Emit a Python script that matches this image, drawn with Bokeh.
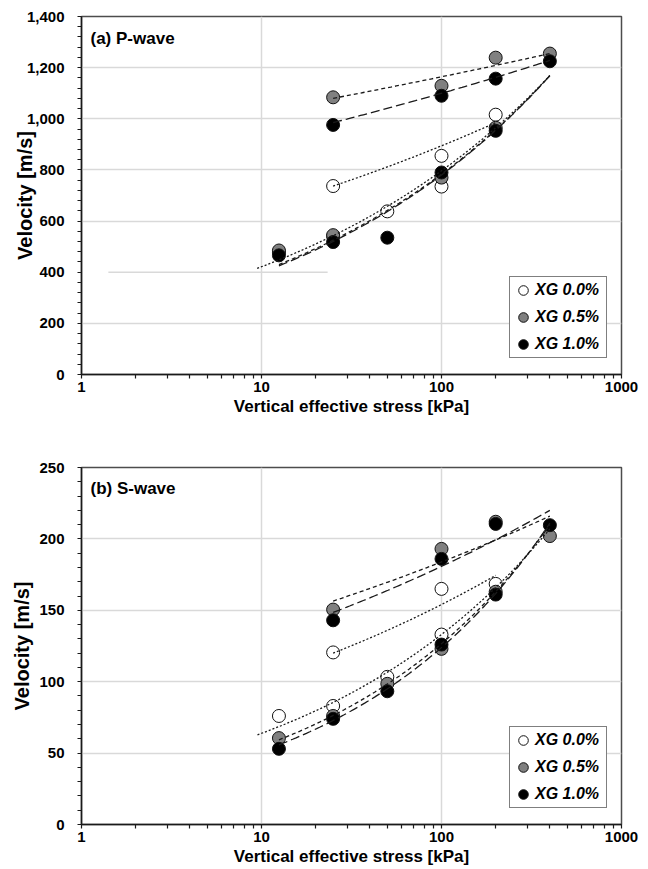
import numpy as np
from bokeh.plotting import figure
from bokeh.layouts import column
from bokeh.models import (FixedTicker, NumeralTickFormatter, Legend, LegendItem,
                          Label, Range1d)
from bokeh.embed import file_html
from bokeh.resources import INLINE

# ---------------- data ----------------
series_names = ["XG 0.0%", "XG 0.5%", "XG 1.0%"]
series_fill = ["white", "#808080", "black"]

# P-wave measured points (stress kPa, velocity m/s)
p_x_xg00 = [12.5, 25, 25, 50, 100, 100, 200]
p_y_xg00 = [478, 737, 540, 638, 855, 735, 1016]
p_x_xg05 = [12.5, 25, 25, 100, 100, 200, 200, 400]
p_y_xg05 = [485, 1084, 545, 1129, 770, 1239, 965, 1255]
p_x_xg10 = [12.5, 25, 25, 50, 100, 100, 200, 200, 400]
p_y_xg10 = [466, 976, 518, 535, 1090, 790, 1157, 953, 1225]

# S-wave measured points
s_x_xg00 = [12.5, 25, 25, 50, 100, 100, 200]
s_y_xg00 = [76, 120.5, 83, 103.4, 165, 133, 168.5]
s_x_xg05 = [12.5, 25, 25, 50, 100, 100, 200, 200, 400]
s_y_xg05 = [60.5, 150.5, 76, 98.5, 193, 123, 212, 163, 202]
s_x_xg10 = [12.5, 25, 25, 50, 100, 100, 200, 200, 400]
s_y_xg10 = [53, 143, 74, 93.3, 186, 126, 210.5, 161, 209.6]

# power-law trend lines: (series index, stress start, stress end, V start, V end)
p_fits = [
    (0, 25, 200, 737, 985),
    (1, 25, 400, 1080, 1255),
    (2, 25, 400, 985, 1228),
    (0, 9.46, 400, 415, 1169),
    (1, 12.5, 400, 430, 1169),
    (2, 12.5, 400, 425, 1169),
]
s_fits = [
    (0, 25, 200, 120, 174.5),
    (1, 25, 400, 156.5, 216),
    (2, 25, 400, 148.5, 220),
    (0, 9.5, 400, 62.8, 207),
    (1, 12.5, 400, 59.3, 210),
    (2, 12.5, 400, 55.8, 211),
]
fit_dash = ["2 2", "4 3", "9 4"]

x_major = [1, 10, 100, 1000]
x_minor = [m * d for d in (1, 10, 100) for m in range(2, 10)]
p_y_ticks = list(range(0, 1401, 200))
s_y_ticks = list(range(0, 251, 50))
p_grid_gap = [400]          # this P gridline is only drawn partly
p_grid_part = [1.41, 23.3]  # stress span of that partial gridline

FONT = "Liberation Sans"
GRID = "#d9d9d9"


def make_panel(title, xs_list, ys_list, fits, y_ticks, y_minor_step, y_max,
               height, b_top, b_bottom, title_y, ylab_standoff, grid_skip=()):
    p = figure(width=648, height=height, x_axis_type="log",
               x_range=Range1d(1, 1000), y_range=Range1d(0, y_max),
               output_backend="svg", toolbar_location=None,
               min_border_left=81, min_border_right=27,
               min_border_top=b_top, min_border_bottom=b_bottom)
    p.outline_line_color = "#4d4d4d"
    p.outline_line_width = 1.5
    p.background_fill_color = "white"
    p.border_fill_color = "white"

    # axes
    p.xaxis.ticker = FixedTicker(ticks=x_major, minor_ticks=x_minor)
    p.xaxis.major_label_overrides = {v: str(v) for v in x_major}
    minor_y = [v for v in np.arange(0, y_max + 0.001, y_minor_step).tolist()
               if v not in y_ticks]
    p.yaxis.ticker = FixedTicker(ticks=y_ticks, minor_ticks=minor_y)
    p.yaxis.formatter = NumeralTickFormatter(format="0,0")
    for ax in (p.xaxis, p.yaxis):
        ax.axis_line_color = "#1a1a1a"
        ax.axis_line_width = 1.5
        ax.major_tick_line_color = "#1a1a1a"
        ax.minor_tick_line_color = "#1a1a1a"
        ax.major_tick_line_width = 1.2
        ax.minor_tick_line_width = 1.2
        ax.major_tick_out = 4
        ax.major_tick_in = 0
        ax.minor_tick_out = 4
        ax.minor_tick_in = 0
        ax.major_label_text_font = FONT
        ax.major_label_text_font_style = "bold"
        ax.major_label_text_font_size = "15px"
        ax.major_label_text_color = "black"
        ax.axis_label_text_font = FONT
        ax.axis_label_text_font_style = "bold"
        ax.axis_label_text_color = "black"
    p.xaxis.axis_label = "Vertical effective stress [kPa]"
    p.xaxis.axis_label_text_font_size = "17px"
    p.xaxis.major_label_standoff = 3
    p.xaxis.axis_label_standoff = 2
    p.yaxis.axis_label = "Velocity [m/s]"
    p.yaxis.axis_label_text_font_size = "20px"
    p.yaxis.major_label_standoff = 13
    p.yaxis.axis_label_standoff = ylab_standoff

    # grid
    p.xgrid.ticker = FixedTicker(ticks=[10, 100])
    p.ygrid.ticker = FixedTicker(ticks=[t for t in y_ticks if t not in grid_skip])
    for g in (p.xgrid, p.ygrid):
        g.grid_line_color = GRID
        g.grid_line_width = 1.5

    # markers
    renderers = []
    for xs, ys, fill in zip(xs_list, ys_list, series_fill):
        r = p.scatter(xs, ys, size=13, fill_color=fill, line_color="#111111",
                      line_width=1)
        renderers.append(r)

    # trend lines
    for idx, x0, x1, v0, v1 in fits:
        b = np.log(v1 / v0) / np.log(x1 / x0)
        xx = np.geomspace(x0, x1, 80)
        yy = v0 * (xx / x0) ** b
        p.line(xx, yy, line_color="#1a1a1a", line_width=1.3,
               line_dash=fit_dash[idx])

    items = [LegendItem(label=n, renderers=[r])
             for n, r in zip(series_names, renderers)]
    leg = Legend(items=items, location=(428, 16), padding=1, spacing=3,
                 glyph_width=24, glyph_height=24, label_standoff=0,
                 label_width=70, label_height=24,
                 label_text_font=FONT, label_text_font_style="bold italic",
                 label_text_font_size="16px", label_text_color="black",
                 border_line_color="black", border_line_width=1.5,
                 background_fill_color="white", background_fill_alpha=1.0,
                 margin=0)
    p.add_layout(leg)

    p.add_layout(Label(x=9, y=title_y, x_units="screen", y_units="screen",
                       text=title, text_font=FONT, text_font_style="bold",
                       text_font_size="17px", text_color="black",
                       text_baseline="middle"))
    return p


top = make_panel("(a) P-wave", [p_x_xg00, p_x_xg05, p_x_xg10],
                 [p_y_xg00, p_y_xg05, p_y_xg10], p_fits, p_y_ticks, 40, 1400,
                 434, 16, 60, 374 - 16 - 22, -12, grid_skip=p_grid_gap)
top.segment(x0=[p_grid_part[0]], y0=p_grid_gap, x1=[p_grid_part[1]], y1=p_grid_gap,
            line_color=GRID, line_width=1.5, level="underlay")

bot = make_panel("(b) S-wave", [s_x_xg00, s_x_xg05, s_x_xg10],
                 [s_y_xg00, s_y_xg05, s_y_xg10], s_fits, s_y_ticks, 10, 250,
                 435, 33, 45, 824 - 467 - 21, 3)

layout = column(top, bot, spacing=0)
open("out.html", "w").write(file_html(layout, INLINE))
